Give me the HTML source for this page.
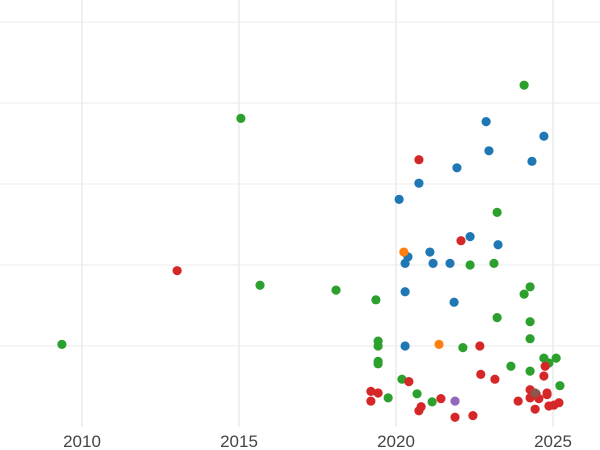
<!DOCTYPE html>
<html><head><meta charset="utf-8"><style>
html,body{margin:0;padding:0;background:#fff}
svg{display:block;font-family:"Liberation Sans",sans-serif}
</style></head><body>
<svg id="chart" width="600" height="450" viewBox="0 0 600 450">
<g id="grid"></g>
<g id="points"></g>
<g id="xticks"></g>
</svg>
<script>
const xTicks=[2010,2015,2020,2025];
const yTicks=[1,2,3,4,5];
const greenX=[2009.36,2015.06,2015.67,2018.09,2019.36,2019.43,2019.43,2019.43,2019.43,2019.75,2020.19,2020.67,2021.15,2022.13,2022.36,2023.12,2023.22,2023.22,2023.66,2024.08,2024.08,2024.27,2024.27,2024.27,2024.27,2024.71,2024.87,2025.10,2025.22];
const greenY=[1.02,3.81,1.75,1.69,1.57,1.06,1.00,0.81,0.78,0.36,0.59,0.41,0.31,0.98,2.0,2.02,2.65,1.35,0.75,4.22,1.64,1.73,1.30,1.09,0.69,0.85,0.79,0.85,0.51];
const blueX=[2022.87,2024.71,2022.96,2024.33,2021.94,2020.73,2020.10,2022.36,2023.25,2021.08,2020.38,2020.29,2021.18,2021.72,2020.29,2021.85,2020.29];
const blueY=[3.77,3.59,3.41,3.28,3.20,3.01,2.81,2.35,2.25,2.16,2.10,2.02,2.02,2.02,1.67,1.54,1.00];
const orangeX=[2020.25,2021.37];
const orangeY=[2.16,1.02];
const redX=[2013.03,2020.73,2022.07,2022.67,2022.70,2023.15,2019.20,2019.43,2019.20,2020.41,2020.80,2020.73,2021.43,2021.88,2022.45,2023.89,2024.27,2024.27,2024.46,2024.55,2024.43,2024.71,2024.75,2024.81,2024.81,2024.87,2025.03,2025.19];
const redY=[1.93,3.30,2.30,1.00,0.65,0.59,0.44,0.42,0.32,0.56,0.25,0.20,0.35,0.12,0.14,0.32,0.46,0.36,0.41,0.35,0.22,0.63,0.75,0.42,0.40,0.26,0.27,0.30];
const purpleX=[2021.88];
const purpleY=[0.32];
const brownX=[2024.43];
const brownY=[0.42];

const NS="http://www.w3.org/2000/svg";
function sx(v){return 82+(v-2010)*31.4;}
function sy(v){return 427-v*81;}
const grid=document.getElementById('grid');
yTicks.forEach(t=>{
  const l=document.createElementNS(NS,'line');
  
  
  l.setAttribute('x1',0);l.setAttribute('x2',600);
  l.setAttribute('y1',sy(t));l.setAttribute('y2',sy(t));
  l.setAttribute('stroke','#ebebeb');l.setAttribute('stroke-width',1);
  grid.appendChild(l);
});
const xg=document.getElementById('xticks');
xTicks.forEach(t=>{
  const l=document.createElementNS(NS,'line');
  
  
  l.setAttribute('x1',sx(t));l.setAttribute('x2',sx(t));
  l.setAttribute('y1',0);l.setAttribute('y2',427);
  l.setAttribute('stroke','#ebebeb');l.setAttribute('stroke-width',1.5);
  grid.appendChild(l);
  const tx=document.createElementNS(NS,'text');
  
  
  tx.setAttribute('x',sx(t));tx.setAttribute('y',447);
  tx.setAttribute('text-anchor','middle');tx.setAttribute('font-size','17');
  tx.setAttribute('fill','#444');
  tx.textContent=t;
  xg.appendChild(tx);
});
const pts=document.getElementById('points');
function series(xs,ys,color,name){
  xs.forEach((x,i)=>{
    const c=document.createElementNS(NS,'circle');
    
    
    c.setAttribute('cx',sx(x));c.setAttribute('cy',sy(ys[i]));
    c.setAttribute('r',4.6);c.setAttribute('fill',color);
    pts.appendChild(c);
  });
}
series(greenX,greenY,'#2ca02c','point-green');
series(blueX,blueY,'#1f77b4','point-blue');
series(orangeX,orangeY,'#ff7f0e','point-orange');
series(redX,redY,'#d62728','point-red');
series(purpleX,purpleY,'#9467bd','point-purple');
series(brownX,brownY,'#8c564b','point-brown');
</script>
</body></html>
